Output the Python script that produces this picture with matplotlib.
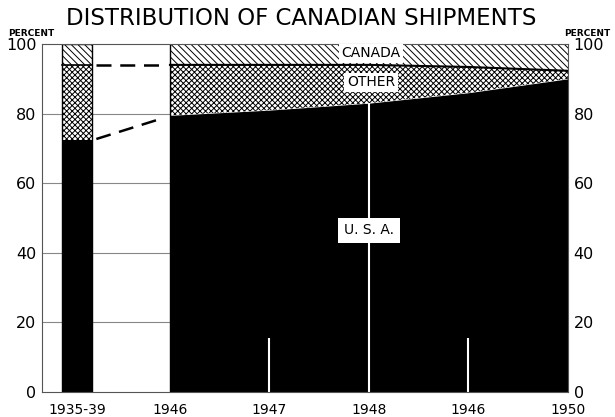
import matplotlib.pyplot as plt
import numpy as np

# main period, positions 0..4 (1946..1950)
years = [0, 1, 2, 3, 4]
year_labels = ['1946', '1947', '1948', '1946', '1950']
usa = [79.5, 81, 83, 86, 90]
usa_other = [94, 94, 94, 93.4, 92.3]

# pre-war average bar
pre_label = '1935-39'
pre_usa = 72.4
pre_other = 94

plt.rcParams['hatch.linewidth'] = 0.7

fig = plt.figure(figsize=(6.15, 4.17), dpi=100)
ax = fig.add_axes([42/615, 25/417, 526/615, 348/417])
x0, bar_l, bar_r = -1.286, -1.085, -0.784
ax.set_xlim(x0, 4)
ax.set_ylim(0, 100)

# gridlines in the blank parts
ax.hlines([20, 40, 60, 80], x0, 0, color='#888888', lw=0.8, zorder=0)

hx = 'xxxxxx'
hc = '\\' * 5

# 1935-39 bar
ax.fill_between([bar_l, bar_r], 0, pre_usa, color='black', lw=0)
ax.fill_between([bar_l, bar_r], pre_usa, pre_other, facecolor='white',
                edgecolor='black', hatch=hx, lw=0)
ax.fill_between([bar_l, bar_r], pre_other, 100, facecolor='white',
                edgecolor='black', hatch=hc, lw=0)
ax.plot([bar_l, bar_r], [pre_other] * 2, color='black', lw=1.2)
ax.plot([bar_l, bar_l, bar_r, bar_r], [0, 100, 100, 0], color='black', lw=1)

# 1946-1950 area
ax.fill_between(years, 0, usa, color='black', lw=0)
ax.fill_between(years, usa, usa_other, facecolor='white',
                edgecolor='black', hatch=hx, lw=0)
ax.fill_between(years, usa_other, 100, facecolor='white',
                edgecolor='black', hatch=hc, lw=0)
ax.plot(years, usa_other, color='black', lw=1.5)
ax.plot([0, 0], [0, 100], color='black', lw=1)

# dashed connectors
ax.plot([-0.74, -0.07], [pre_other, usa_other[0]], color='black', lw=1.8,
        dashes=(6, 3.5))
ax.plot([-0.74, -0.07], [pre_usa + 0.3, usa[0] - 0.8], color='black', lw=1.8,
        dashes=(6, 3.5))

# white marker lines in black area
ax.vlines([1, 3], 0, 15.5, color='white', lw=1.5)
ax.vlines(2, 0, usa[2], color='white', lw=1.5)

# labels
box = dict(facecolor='white', edgecolor='none', pad=2)
ax.text(2.02, 97.3, 'CANADA', ha='center', va='center', fontsize=10, bbox=box)
ax.text(2.02, 89.0, 'OTHER', ha='center', va='center', fontsize=10, bbox=box)
ax.text(2.0, 46.5, 'U. S. A.', ha='center', va='center', fontsize=10,
        bbox=dict(facecolor='white', edgecolor='none', pad=4))

for s in ax.spines.values():
    s.set_color('#555555')
    s.set_linewidth(0.8)

ax.set_yticks([0, 20, 40, 60, 80, 100])
ax.tick_params(axis='y', length=0, labelsize=11.5, pad=4,
               labelright=True, right=True)
ax.set_xticks([-0.935] + years)
ax.set_xticklabels([pre_label] + year_labels, fontsize=10)
ax.tick_params(axis='x', length=0, pad=8)

fig.text(0.49, 0.955, 'DISTRIBUTION OF CANADIAN SHIPMENTS', ha='center',
         va='center', fontsize=16.5)
fig.text(8/615, 1 - 33/417, 'PERCENT', fontsize=6.5, fontweight='bold',
         va='center')
fig.text(610/615, 1 - 33/417, 'PERCENT', fontsize=6.5, fontweight='bold',
         va='center', ha='right')

fig.savefig('out.png', dpi=100)
